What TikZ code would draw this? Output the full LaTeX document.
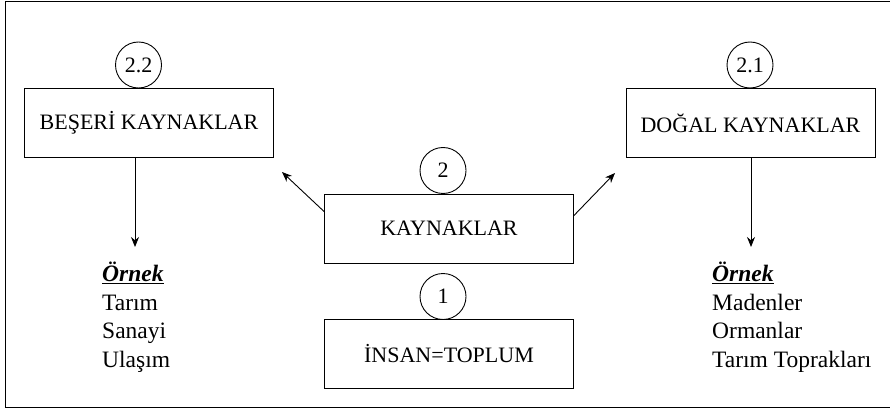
\documentclass[tikz,border=0pt]{standalone}
\usepackage{fontspec}
\setmainfont{Liberation Serif}
\usetikzlibrary{arrows.meta}
\begin{document}
\begin{tikzpicture}[x=1pt,y=1pt,
  every node/.style={font=\fontsize{22}{28.5}\selectfont},
  box/.style={draw,line width=0.9pt,inner sep=0pt,minimum width=249pt,minimum height=69pt},
  num/.style={draw,circle,line width=0.9pt,inner sep=0pt,minimum size=46pt},
  arr/.style={line width=0.9pt,-{Stealth[length=10pt,width=8pt]}},
  lst/.style={align=left,anchor=base west,inner sep=0pt,font=\fontsize{23.5}{28.5}\selectfont}]
\useasboundingbox (0,0) rectangle (890,410);
\draw[line width=1pt] (895,408) -- (5,408) -- (5,3) -- (895,3);
% boxes
\node[box] (bes) at (149,287) {BEŞERİ KAYNAKLAR};
\node[box] (dog) at (750.5,287) {DOĞAL KAYNAKLAR};
\node[box] (kay) at (449,181.5) {KAYNAKLAR};
\node[box] (ins) at (449,56) {İNSAN=TOPLUM};
% numbers
\node[num] (n22) at (138.5,345) {2.2};
\node[num] (n21) at (750,345) {2.1};
\node[num] (n2) at (443,239.5) {2};
\node[num] (n1) at (443,113.5) {1};
% lists (anchor = baseline of the last line)
\node[lst] (l1) at (102,43) {\underline{\textbf{\textit{Örnek}}}\\Tarım\\Sanayi\\Ulaşım};
\node[lst] (l2) at (712,43) {\underline{\textbf{\textit{Örnek}}}\\Madenler\\Ormanlar\\Tarım Toprakları};
% arrows
\coordinate (t1) at (135,163);
\coordinate (t2) at (751,163);
\coordinate (t3) at (282,238);
\coordinate (t4) at (615,237);
\draw[arr] (bes.south -| t1) -- (t1);
\draw[arr] (dog.south -| t2) -- (t2);
\draw[arr] ([yshift=17pt]kay.west) -- (t3);
\draw[arr] ([yshift=13pt]kay.east) -- (t4);
\end{tikzpicture}
\end{document}
